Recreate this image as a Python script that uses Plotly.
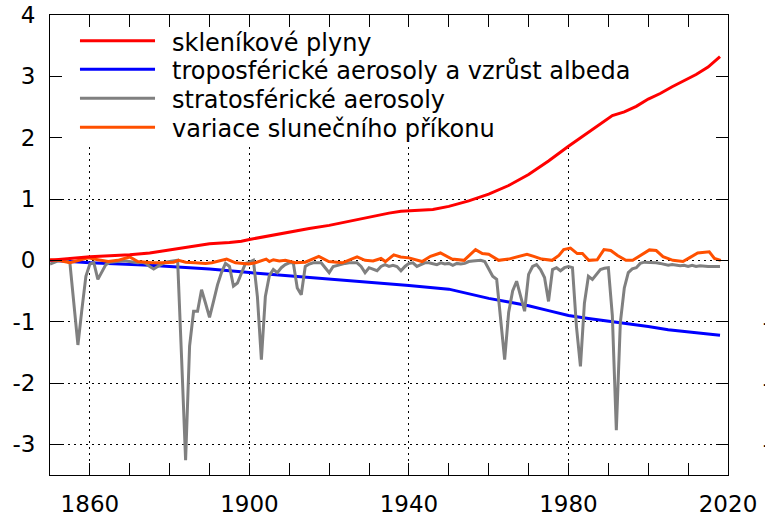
import plotly.graph_objects as go

# ---------------- data ----------------
series_names = [
    "skleníkové plyny",
    "troposférické aerosoly a vzrůst albeda",
    "stratosférické aerosoly",
    "variace slunečního příkonu",
]
series_colors = ["#ff0000", "#0000ff", "#808080", "#ff5000"]

ghg_years = [1850, 1855, 1860, 1865, 1870, 1875, 1878, 1882, 1886, 1890, 1895, 1898,
             1900, 1905, 1910, 1915, 1920, 1925, 1930, 1935, 1938, 1942, 1946, 1950,
             1955, 1960, 1965, 1970, 1975, 1980, 1984, 1988, 1991, 1994, 1997, 2000,
             2003, 2006, 2009, 2012, 2015, 2017, 2018]
ghg_values = [0.0, 0.03, 0.06, 0.075, 0.09, 0.12, 0.15, 0.2, 0.24, 0.27, 0.29, 0.31,
              0.34, 0.4, 0.47, 0.52, 0.57, 0.64, 0.7, 0.77, 0.8, 0.81, 0.83, 0.88,
              0.97, 1.08, 1.22, 1.4, 1.62, 1.86, 2.04, 2.23, 2.36, 2.42, 2.51, 2.63,
              2.72, 2.83, 2.93, 3.03, 3.15, 3.27, 3.32]

trop_years = [1850, 1860, 1875, 1890, 1900, 1910, 1920, 1930, 1940, 1950, 1955, 1960,
              1965, 1970, 1975, 1980, 1985, 1990, 1995, 2000, 2005, 2010, 2015, 2018]
trop_values = [0.0, -0.04, -0.08, -0.14, -0.2, -0.25, -0.3, -0.35, -0.41, -0.47, -0.55, -0.62,
               -0.68, -0.74, -0.82, -0.9, -0.95, -0.99, -1.04, -1.08, -1.13, -1.17, -1.2, -1.22]

strat_years = list(range(1850, 2019))
strat_values = [
    -0.06, -0.03, -0.01, 0.0, 0.0, -0.05, -0.7, -1.38, -0.8, -0.26,      # 1850s
    -0.06, -0.04, -0.31, -0.2, -0.07, -0.03, -0.02, -0.02, -0.01, -0.01,  # 1860s
    -0.02, -0.03, -0.04, -0.03, -0.05, -0.1, -0.14, -0.1, -0.07, -0.03,   # 1870s
    -0.02, -0.01, 0.0, -1.6, -3.26, -1.4, -0.83, -0.83, -0.48, -0.7,      # 1880s
    -0.93, -0.67, -0.4, -0.2, -0.05, -0.1, -0.42, -0.37, -0.2, -0.05,     # 1890s
    -0.03, 0.0, -0.59, -1.62, -0.59, -0.25, -0.15, -0.2, -0.12, -0.07,    # 1900s
    -0.04, -0.04, -0.45, -0.56, -0.1, -0.06, -0.04, -0.04, -0.04, -0.12,  # 1910s
    -0.2, -0.1, -0.08, -0.06, -0.05, -0.04, -0.04, -0.04, -0.1, -0.2,     # 1920s
    -0.12, -0.14, -0.17, -0.1, -0.07, -0.1, -0.08, -0.1, -0.17, -0.1,     # 1930s
    -0.05, -0.04, -0.1, -0.07, -0.04, -0.04, -0.05, -0.07, -0.04, -0.06,  # 1940s
    -0.05, -0.08, -0.05, -0.06, -0.05, -0.02, -0.01, 0.0, 0.0, -0.02,     # 1950s
    -0.15, -0.26, -0.31, -1.0, -1.62, -0.85, -0.5, -0.34, -0.6, -0.83,    # 1960s
    -0.23, -0.1, -0.07, -0.15, -0.28, -0.67, -0.15, -0.12, -0.17, -0.12,  # 1970s
    -0.1, -0.12, -1.08, -1.73, -0.7, -0.26, -0.31, -0.22, -0.15, -0.13,   # 1980s
    -0.12, -0.9, -2.77, -1.02, -0.45, -0.2, -0.14, -0.12, -0.05, -0.03,   # 1990s
    -0.03, -0.04, -0.04, -0.05, -0.06, -0.08, -0.07, -0.08, -0.09, -0.08, # 2000s
    -0.1, -0.08, -0.1, -0.09, -0.1, -0.1, -0.1, -0.1, -0.1,               # 2010-2018
]

solar_years = [1850, 1852, 1855, 1857, 1859.6, 1862, 1864.6, 1867, 1870, 1872, 1875.5, 1878,
               1881, 1882.2, 1884, 1886.4, 1889, 1890.6, 1892.7, 1894.3, 1896.5, 1899.8,
               1901.5, 1904.2, 1905, 1906, 1907.5, 1909, 1911.5, 1914, 1917.4, 1919.9,
               1923.3, 1927, 1929, 1931, 1933, 1934.1, 1936.2, 1937.9, 1940, 1943.3,
               1945.4, 1947.9, 1950.8, 1953.8, 1956.7, 1958.4, 1960, 1962.5, 1965, 1967.5,
               1969.6, 1971.3, 1973.3, 1975.9, 1977.6, 1978.8, 1980.5, 1982.2, 1983.5,
               1985.1, 1987.2, 1988.9, 1990.6, 1992.3, 1994.4, 1996.1, 1998.2, 2000.3,
               2002, 2003.7, 2006.2, 2008.7, 2010.3, 2012.4, 2015.3, 2016.6, 2018.2]
solar_values = [0.01, 0.0, -0.04, -0.01, 0.04, 0.01, -0.02, 0.0, 0.055, -0.02, -0.04, -0.04,
                -0.03, 0.0, -0.03, -0.04, -0.05, -0.04, 0.0, 0.02, -0.04, -0.06,
                -0.04, 0.02, -0.02, 0.01, -0.01, 0.0, -0.04, -0.03, 0.065, -0.02,
                -0.04, 0.055, 0.0, -0.01, 0.03, -0.02, 0.09, 0.055, 0.04, -0.02,
                0.065, 0.12, 0.02, 0.0, 0.175, 0.11, 0.1, 0.0, 0.02, 0.07,
                0.1, 0.065, 0.02, 0.0, 0.08, 0.175, 0.2, 0.11, 0.11,
                0.0, 0.01, 0.175, 0.16, 0.08, 0.0, 0.0, 0.08, 0.17,
                0.16, 0.06, 0.0, -0.02, 0.04, 0.12, 0.14, 0.03, 0.0]

x_tick_vals = [1860, 1900, 1940, 1980, 2020]
x_tick_text = ["1860", "1900", "1940", "1980", "2020"]
y_tick_vals = [-3, -2, -1, 0, 1, 2, 3, 4]
y_tick_text = ["-3", "-2", "-1", "0", "1", "2", "3", "4"]
NB = "\u00a0"
y2_tick_text = [NB * 4 + t if t.startswith("-") else NB * 5 + t for t in y_tick_text]

# opaque key area (hides the grid behind the key, spans the plot width)
key_area_x = [1850, 2020, 2020, 1850]
key_area_y = [1.88, 1.88, 4, 4]

# ---------------- figure ----------------
FONT = "DejaVu Sans"
fig = go.Figure()

fig.add_trace(go.Scatter(x=key_area_x, y=key_area_y, fill="toself", fillcolor="white",
                         mode="none", showlegend=False, hoverinfo="skip"))

all_x = [ghg_years, trop_years, strat_years, solar_years]
all_y = [ghg_values, trop_values, strat_values, solar_values]
order = [1, 2, 3, 0]
for i in order:
    fig.add_trace(go.Scatter(
        x=all_x[i], y=all_y[i], mode="lines", name=series_names[i],
        line=dict(color=series_colors[i], width=3),
        showlegend=False, hoverinfo="skip",
    ))

# invisible trace to activate the right-hand y axis
fig.add_trace(go.Scatter(x=[ghg_years[0]], y=[ghg_values[0]], yaxis="y2",
                         mode="markers", marker=dict(opacity=0), showlegend=False,
                         hoverinfo="skip"))

# manual key (long line samples)
key_rows = [0.944, 0.882, 0.819, 0.756]
for name, color, yy in zip(series_names, series_colors, key_rows):
    fig.add_shape(type="line", xref="paper", yref="paper", x0=0.0442, x1=0.1549,
                  y0=yy, y1=yy, line=dict(color=color, width=3), layer="above")
    fig.add_annotation(xref="paper", yref="paper", x=0.177, y=yy, text=name,
                       showarrow=False, xanchor="left", yanchor="middle",
                       font=dict(family=FONT, size=24, color="black"), yshift=-2)

axis_common = dict(showline=True, linecolor="black", linewidth=1,
                   ticks="inside", tickcolor="black", ticklen=12, tickwidth=1,
                   zeroline=False, automargin=False)

fig.update_layout(
    width=765, height=515,
    margin=dict(l=50, r=37, t=15, b=40),
    paper_bgcolor="white", plot_bgcolor="white",
    font=dict(family=FONT, size=23, color="black"),
    showlegend=False,
    xaxis=dict(range=[1850, 2020], tickmode="array", tickvals=x_tick_vals,
               ticktext=x_tick_text, mirror="allticks",
               showgrid=True, gridcolor="black", gridwidth=1, griddash="2px,4px",
               minor=dict(tickmode="linear", tick0=1850, dtick=10, ticks="inside",
                          ticklen=6, tickcolor="black", showgrid=False),
               ticklabelstandoff=8,
               **axis_common),
    yaxis=dict(range=[-3.5, 4], tickmode="array", tickvals=y_tick_vals,
               ticktext=y_tick_text, mirror=True,
               showgrid=True, gridcolor="black", gridwidth=1, griddash="2px,4px",
               ticklabelstandoff=9,
               **axis_common),
    yaxis2=dict(range=[-3.5, 4], overlaying="y", side="right", tickmode="array",
                tickvals=y_tick_vals, ticktext=y2_tick_text, showgrid=False,
                **axis_common),
)

fig.write_html("out.html", config={"displayModeBar": False},
               post_script="document.body.style.margin='0';")
